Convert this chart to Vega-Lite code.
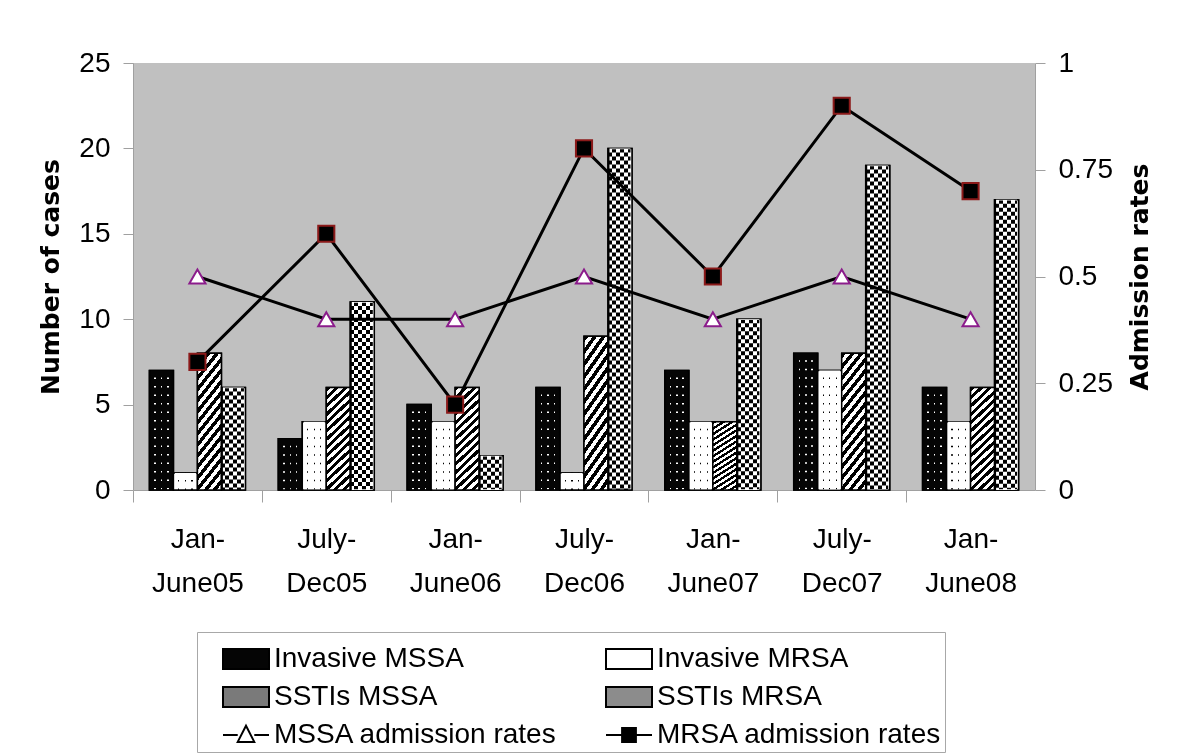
{
  "$schema": "https://vega.github.io/schema/vega-lite/v6.json",
  "width": 902,
  "height": 427,
  "autosize": {"type": "none"},
  "padding": {"left": 133, "top": 63, "right": 165, "bottom": 265},
  "background": "white",
  "config": {
    "view": {"fill": "#c0c0c0", "stroke": null},
    "axis": {
      "labelFont": "'Liberation Sans', Arial, sans-serif",
      "labelFontSize": 28,
      "labelColor": "black",
      "domainColor": "#a0a0a0",
      "tickColor": "#a0a0a0",
      "grid": false,
      "titleFont": "'DejaVu Sans', sans-serif",
      "titleFontSize": 25,
      "titleFontWeight": "bold",
      "titleColor": "black"
    },
    "legend": {
      "title": null,
      "orient": "none",
      "legendX": 64,
      "legendY": 569,
      "columns": 2,
      "direction": "horizontal",
      "strokeColor": "#a8a8a8",
      "fillColor": "white",
      "padding": 3,
      "symbolOffset": 22,
      "labelFont": "'Liberation Sans', Arial, sans-serif",
      "labelFontSize": 28,
      "labelColor": "black",
      "labelOffset": 4,
      "labelLimit": 500,
      "rowPadding": -10,
      "columnPadding": 25,
      "symbolSize": 2116,
      "symbolOpacity": 1,
      "symbolStrokeColor": "black",
      "symbolStrokeWidth": 2
    }
  },
  "datasets": {
    "bars": [
      {"period": "Jan-June05", "series": "Invasive MSSA", "cases": 7},
      {"period": "Jan-June05", "series": "Invasive MRSA", "cases": 1},
      {"period": "Jan-June05", "series": "SSTIs MSSA", "cases": 8},
      {"period": "Jan-June05", "series": "SSTIs MRSA", "cases": 6},
      {"period": "July-Dec05", "series": "Invasive MSSA", "cases": 3},
      {"period": "July-Dec05", "series": "Invasive MRSA", "cases": 4},
      {"period": "July-Dec05", "series": "SSTIs MSSA", "cases": 6},
      {"period": "July-Dec05", "series": "SSTIs MRSA", "cases": 11},
      {"period": "Jan-June06", "series": "Invasive MSSA", "cases": 5},
      {"period": "Jan-June06", "series": "Invasive MRSA", "cases": 4},
      {"period": "Jan-June06", "series": "SSTIs MSSA", "cases": 6},
      {"period": "Jan-June06", "series": "SSTIs MRSA", "cases": 2},
      {"period": "July-Dec06", "series": "Invasive MSSA", "cases": 6},
      {"period": "July-Dec06", "series": "Invasive MRSA", "cases": 1},
      {"period": "July-Dec06", "series": "SSTIs MSSA", "cases": 9},
      {"period": "July-Dec06", "series": "SSTIs MRSA", "cases": 20},
      {"period": "Jan-June07", "series": "Invasive MSSA", "cases": 7},
      {"period": "Jan-June07", "series": "Invasive MRSA", "cases": 4},
      {"period": "Jan-June07", "series": "SSTIs MSSA", "cases": 4},
      {"period": "Jan-June07", "series": "SSTIs MRSA", "cases": 10},
      {"period": "July-Dec07", "series": "Invasive MSSA", "cases": 8},
      {"period": "July-Dec07", "series": "Invasive MRSA", "cases": 7},
      {"period": "July-Dec07", "series": "SSTIs MSSA", "cases": 8},
      {"period": "July-Dec07", "series": "SSTIs MRSA", "cases": 19},
      {"period": "Jan-June08", "series": "Invasive MSSA", "cases": 6},
      {"period": "Jan-June08", "series": "Invasive MRSA", "cases": 4},
      {"period": "Jan-June08", "series": "SSTIs MSSA", "cases": 6},
      {"period": "Jan-June08", "series": "SSTIs MRSA", "cases": 17}
    ],
    "rates": [
      {"period": "Jan-June05", "series": "MSSA admission rates", "rate": 0.5},
      {"period": "July-Dec05", "series": "MSSA admission rates", "rate": 0.4},
      {"period": "Jan-June06", "series": "MSSA admission rates", "rate": 0.4},
      {"period": "July-Dec06", "series": "MSSA admission rates", "rate": 0.5},
      {"period": "Jan-June07", "series": "MSSA admission rates", "rate": 0.4},
      {"period": "July-Dec07", "series": "MSSA admission rates", "rate": 0.5},
      {"period": "Jan-June08", "series": "MSSA admission rates", "rate": 0.4},
      {"period": "Jan-June05", "series": "MRSA admission rates", "rate": 0.3},
      {"period": "July-Dec05", "series": "MRSA admission rates", "rate": 0.6},
      {"period": "Jan-June06", "series": "MRSA admission rates", "rate": 0.2},
      {"period": "July-Dec06", "series": "MRSA admission rates", "rate": 0.8},
      {"period": "Jan-June07", "series": "MRSA admission rates", "rate": 0.5},
      {"period": "July-Dec07", "series": "MRSA admission rates", "rate": 0.9},
      {"period": "Jan-June08", "series": "MRSA admission rates", "rate": 0.7}
    ]
  },
  "encoding": {
    "x": {
      "field": "period",
      "type": "nominal",
      "title": null,
      "scale": {
        "domain": ["Jan-June05", "July-Dec05", "Jan-June06", "July-Dec06", "Jan-June07", "July-Dec07", "Jan-June08"],
        "paddingInner": 0.255,
        "paddingOuter": 0.1275
      },
      "axis": {
        "labelAngle": 0,
        "labelExpr": "[slice(datum.label, 0, indexof(datum.label, '-') + 1), slice(datum.label, indexof(datum.label, '-') + 1)]",
        "labelLineHeight": 44,
        "labelBaseline": "top",
        "tickSize": 12,
        "labelPadding": 23,
        "tickOffset": -64.43,
        "labelOffset": 64.43
      }
    }
  },
  "layer": [
    {
      "data": {"name": "bars"},
      "encoding": {
        "xOffset": {
          "field": "series",
          "type": "nominal",
          "scale": {"domain": ["Invasive MSSA", "Invasive MRSA", "SSTIs MSSA", "SSTIs MRSA"], "paddingInner": 0, "paddingOuter": 0}
        },
        "y": {
          "field": "cases",
          "type": "quantitative",
          "scale": {"domain": [0, 25], "nice": false},
          "axis": {"values": [0, 5, 10, 15, 20, 25], "title": "Number of cases", "tickSize": 10, "labelPadding": 13, "titlePadding": 15}
        }
      },
      "layer": [
        {
          "mark": {"type": "bar", "stroke": "black", "strokeWidth": 1.5},
          "encoding": {
            "fill": {
              "field": "series",
              "type": "nominal",
              "scale": {
                "domain": ["Invasive MSSA", "Invasive MRSA", "SSTIs MSSA", "SSTIs MRSA", "MSSA admission rates", "MRSA admission rates"],
                "range": ["#050505", "#ffffff", "#7a7a7a", "#8c8c8c", "#ffffff", "#000000"]
              },
              "legend": {"title": null}
            }
          }
        },
        {
          "mark": {"type": "point", "opacity": 0, "filled": false, "strokeWidth": 2},
          "encoding": {
            "shape": {
              "field": "series",
              "type": "nominal",
              "scale": {
                "domain": ["Invasive MSSA", "Invasive MRSA", "SSTIs MSSA", "SSTIs MRSA", "MSSA admission rates", "MRSA admission rates"],
                "range": [
                  "M-1,-0.43H1V0.43H-1Z",
                  "M-1,-0.43H1V0.43H-1Z",
                  "M-1,-0.43H1V0.43H-1Z",
                  "M-1,-0.43H1V0.43H-1Z",
                  "M-1,0H-0.36M0.36,0H1M0,-0.4L0.36,0.3H-0.36Z",
                  "M-1,0H1M-0.3,-0.3H0.3V0.3H-0.3Z"
                ]
              },
              "legend": {"title": null}
            },
            "stroke": {
              "field": "series",
              "type": "nominal",
              "scale": {
                "domain": ["Invasive MSSA", "Invasive MRSA", "SSTIs MSSA", "SSTIs MRSA", "MSSA admission rates", "MRSA admission rates"],
                "range": ["#000000", "#000000", "#000000", "#000000", "#000000", "#000000"]
              },
              "legend": {"title": null}
            }
          }
        },
        {
          "transform": [{"filter": "datum.series === 'Invasive MSSA'"}],
          "mark": {
            "type": "bar",
            "stroke": "black",
            "strokeWidth": 1.5,
            "fill": {"gradient": "linear", "x1": 0, "y1": 0, "x2": 1, "y2": 0, "stops": [
              {"offset": 0, "color": "#050505"}, {"offset": 0.2, "color": "#050505"}, {"offset": 0.2, "color": "#fff"}, {"offset": 0.265, "color": "#fff"},
              {"offset": 0.265, "color": "#050505"}, {"offset": 0.47, "color": "#050505"}, {"offset": 0.47, "color": "#fff"}, {"offset": 0.535, "color": "#fff"},
              {"offset": 0.535, "color": "#050505"}, {"offset": 0.735, "color": "#050505"}, {"offset": 0.735, "color": "#fff"}, {"offset": 0.8, "color": "#fff"},
              {"offset": 0.8, "color": "#050505"}, {"offset": 1, "color": "#050505"}
            ]}
          }
        },
        {
          "transform": [{"filter": "datum.series === 'Invasive MSSA'"}],
          "mark": {"type": "rule", "color": "#050505", "strokeWidth": 21, "strokeDash": [7, 1.5]},
          "encoding": {"y2": {"datum": 0}}
        },
        {
          "transform": [{"filter": "datum.series === 'Invasive MRSA'"}],
          "mark": {
            "type": "bar",
            "stroke": "black",
            "strokeWidth": 1.5,
            "fill": {"gradient": "linear", "x1": 0, "y1": 0, "x2": 1, "y2": 0, "stops": [
              {"offset": 0, "color": "#fff"}, {"offset": 0.2, "color": "#fff"}, {"offset": 0.2, "color": "#000"}, {"offset": 0.25, "color": "#000"},
              {"offset": 0.25, "color": "#fff"}, {"offset": 0.475, "color": "#fff"}, {"offset": 0.475, "color": "#000"}, {"offset": 0.525, "color": "#000"},
              {"offset": 0.525, "color": "#fff"}, {"offset": 0.75, "color": "#fff"}, {"offset": 0.75, "color": "#000"}, {"offset": 0.8, "color": "#000"},
              {"offset": 0.8, "color": "#fff"}, {"offset": 1, "color": "#fff"}
            ]}
          }
        },
        {
          "transform": [{"filter": "datum.series === 'Invasive MRSA'"}],
          "mark": {"type": "rule", "color": "#ffffff", "strokeWidth": 21, "strokeDash": [7, 1.5]},
          "encoding": {"y2": {"datum": 0}}
        },
        {
          "transform": [{"filter": "datum.series === 'SSTIs MSSA'"}],
          "mark": {
            "type": "bar",
            "stroke": "black",
            "strokeWidth": 1.5,
            "fill": {"gradient": "linear", "x1": 0, "y1": 0, "x2": 1, "y2": 4.5, "stops": [
              {"offset": 0, "color": "#000"}, {"offset": 0.0086, "color": "#000"}, {"offset": 0.0086, "color": "#fff"}, {"offset": 0.0172, "color": "#fff"},
              {"offset": 0.0172, "color": "#000"}, {"offset": 0.0258, "color": "#000"}, {"offset": 0.0258, "color": "#fff"}, {"offset": 0.0344, "color": "#fff"},
              {"offset": 0.0344, "color": "#000"}, {"offset": 0.043, "color": "#000"}, {"offset": 0.043, "color": "#fff"}, {"offset": 0.0516, "color": "#fff"},
              {"offset": 0.0516, "color": "#000"}, {"offset": 0.0602, "color": "#000"}, {"offset": 0.0602, "color": "#fff"}, {"offset": 0.0688, "color": "#fff"},
              {"offset": 0.0688, "color": "#000"}, {"offset": 0.0774, "color": "#000"}, {"offset": 0.0774, "color": "#fff"}, {"offset": 0.086, "color": "#fff"},
              {"offset": 0.086, "color": "#000"}, {"offset": 0.0946, "color": "#000"}, {"offset": 0.0946, "color": "#fff"}, {"offset": 0.1032, "color": "#fff"},
              {"offset": 0.1032, "color": "#000"}, {"offset": 0.1118, "color": "#000"}, {"offset": 0.1118, "color": "#fff"}, {"offset": 0.1204, "color": "#fff"},
              {"offset": 0.1204, "color": "#000"}, {"offset": 0.129, "color": "#000"}, {"offset": 0.129, "color": "#fff"}, {"offset": 0.1376, "color": "#fff"},
              {"offset": 0.1376, "color": "#000"}, {"offset": 0.1462, "color": "#000"}, {"offset": 0.1462, "color": "#fff"}, {"offset": 0.1548, "color": "#fff"},
              {"offset": 0.1548, "color": "#000"}, {"offset": 0.1634, "color": "#000"}, {"offset": 0.1634, "color": "#fff"}, {"offset": 0.172, "color": "#fff"},
              {"offset": 0.172, "color": "#000"}, {"offset": 0.1806, "color": "#000"}, {"offset": 0.1806, "color": "#fff"}, {"offset": 0.1892, "color": "#fff"},
              {"offset": 0.1892, "color": "#000"}, {"offset": 0.1978, "color": "#000"}, {"offset": 0.1978, "color": "#fff"}, {"offset": 0.2064, "color": "#fff"},
              {"offset": 0.2064, "color": "#000"}, {"offset": 0.215, "color": "#000"}, {"offset": 0.215, "color": "#fff"}, {"offset": 0.2236, "color": "#fff"},
              {"offset": 0.2236, "color": "#000"}, {"offset": 0.2322, "color": "#000"}, {"offset": 0.2322, "color": "#fff"}, {"offset": 0.2408, "color": "#fff"},
              {"offset": 0.2408, "color": "#000"}, {"offset": 0.2494, "color": "#000"}, {"offset": 0.2494, "color": "#fff"}, {"offset": 0.258, "color": "#fff"},
              {"offset": 0.258, "color": "#000"}, {"offset": 0.2666, "color": "#000"}, {"offset": 0.2666, "color": "#fff"}, {"offset": 0.2752, "color": "#fff"}
            ]}
          }
        },
        {
          "transform": [{"filter": "datum.series === 'SSTIs MRSA'"}],
          "mark": {
            "type": "bar",
            "stroke": "black",
            "strokeWidth": 1.5,
            "fill": {"gradient": "linear", "x1": 0, "y1": 0, "x2": 1, "y2": 0, "stops": [
              {"offset": 0, "color": "#000"}, {"offset": 0.1667, "color": "#000"}, {"offset": 0.1667, "color": "#fff"}, {"offset": 0.3333, "color": "#fff"},
              {"offset": 0.3333, "color": "#000"}, {"offset": 0.5, "color": "#000"}, {"offset": 0.5, "color": "#fff"}, {"offset": 0.6667, "color": "#fff"},
              {"offset": 0.6667, "color": "#000"}, {"offset": 0.8333, "color": "#000"}, {"offset": 0.8333, "color": "#fff"}, {"offset": 1, "color": "#fff"}
            ]}
          }
        },
        {
          "transform": [{"filter": "datum.series === 'SSTIs MRSA'"}],
          "mark": {"type": "rule", "color": "white", "strokeWidth": 21, "strokeDash": [4, 4], "blend": "difference"},
          "encoding": {"y2": {"datum": 0}}
        }
      ]
    },
    {
      "data": {"name": "rates"},
      "encoding": {
        "y": {
          "field": "rate",
          "type": "quantitative",
          "scale": {"domain": [0, 1], "nice": false},
          "axis": {
            "orient": "right",
            "values": [0, 0.25, 0.5, 0.75, 1],
            "format": ".2~f",
            "title": "Admission rates",
            "titleAngle": 270,
            "titleBaseline": "top",
            "tickSize": 10,
            "labelPadding": 13,
            "titlePadding": 15
          }
        }
      },
      "layer": [
        {
          "mark": {"type": "line", "color": "black", "strokeWidth": 3},
          "encoding": {"detail": {"field": "series", "type": "nominal"}}
        },
        {
          "mark": {"type": "point", "filled": true, "size": 260, "strokeWidth": 2, "opacity": 1},
          "encoding": {
            "shape": {"condition": {"test": "datum.series === 'MSSA admission rates'", "value": "triangle-up"}, "value": "square"},
            "fill": {"condition": {"test": "datum.series === 'MSSA admission rates'", "value": "white"}, "value": "black"},
            "stroke": {"condition": {"test": "datum.series === 'MSSA admission rates'", "value": "#8b1c8b"}, "value": "#8b1a1a"}
          }
        }
      ]
    }
  ],
  "resolve": {"scale": {"y": "independent"}}
}
